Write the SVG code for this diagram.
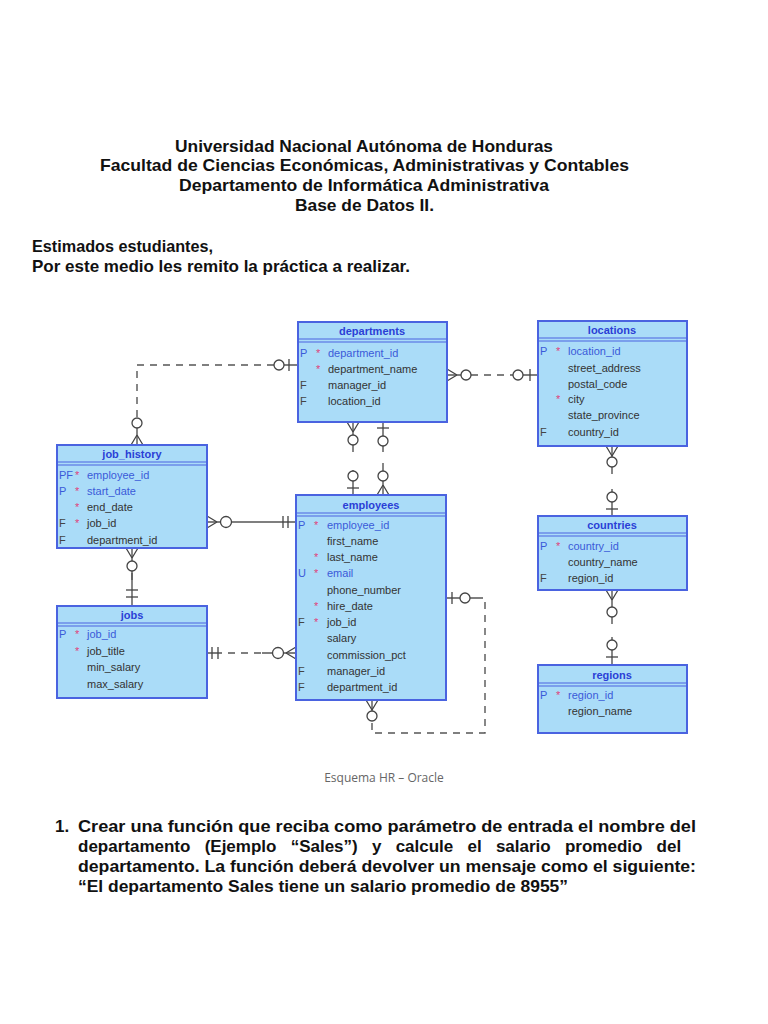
<svg xmlns="http://www.w3.org/2000/svg" width="768" height="1024" viewBox="0 0 768 1024">
<style>
.t{font-family:"Liberation Sans",Arial,sans-serif;font-weight:bold;font-size:17px;fill:#111}
.box{fill:#aadcf8;stroke:#4a63e0;stroke-width:2}
.sep{stroke:#4a63e0;stroke-width:1.2}
.hd{font-family:"Liberation Sans",Arial,sans-serif;font-weight:bold;font-size:11px;fill:#2b3fd6;text-anchor:middle}
.c{font-family:"Liberation Sans",Arial,sans-serif;font-size:11px;fill:#333}
.pk{fill:#3a5ad8}
.fl{font-family:"Liberation Sans",Arial,sans-serif;font-size:11px;fill:#3a5ad8}
.ff{font-family:"Liberation Sans",Arial,sans-serif;font-size:11px;fill:#444}
.st{font-family:"Liberation Sans",Arial,sans-serif;font-size:11px;fill:#e0407a}
.ln{fill:none;stroke:#555;stroke-width:1.4}
.dl{fill:none;stroke:#555;stroke-width:1.4;stroke-dasharray:7 6}
.ci{fill:#fff;stroke:#444;stroke-width:1.3}
.sy{fill:none;stroke:#444;stroke-width:1.3}
.cap{font-family:"Open Sans","Liberation Sans",sans-serif;font-size:12px;fill:#666;text-anchor:middle}
</style>

<g id="title">
<text class="t" x="364" y="152" text-anchor="middle" textLength="378" lengthAdjust="spacingAndGlyphs">Universidad Nacional Autónoma de Honduras</text>
<text class="t" x="364.5" y="171" text-anchor="middle" textLength="529" lengthAdjust="spacingAndGlyphs">Facultad de Ciencias Económicas, Administrativas y Contables</text>
<text class="t" x="364" y="191" text-anchor="middle" textLength="370" lengthAdjust="spacingAndGlyphs">Departamento de Informática Administrativa</text>
<text class="t" x="364.5" y="211" text-anchor="middle" textLength="139" lengthAdjust="spacingAndGlyphs">Base de Datos II.</text>
<text class="t" x="32" y="252" textLength="181" lengthAdjust="spacingAndGlyphs">Estimados estudiantes,</text>
<text class="t" x="32" y="272" textLength="378" lengthAdjust="spacingAndGlyphs">Por este medio les remito la práctica a realizar.</text>
</g>

<g id="connectors">
<!-- departments - job_history -->
<path class="dl" d="M274,365 H137 V418"/>
<path class="ln" d="M284,365 H298 M137,428 V445"/>
<line class="sy" x1="289" y1="359" x2="289" y2="371"/>
<circle class="ci" cx="279" cy="365" r="5"/>
<circle class="ci" cx="137" cy="423" r="5"/>
<path class="sy" d="M137,435 L131,445 M137,435 L143,445"/>
<!-- departments - locations -->
<path class="ln" d="M447,375 H461 M523,375 H538"/>
<path class="dl" d="M471,375 H513"/>
<path class="sy" d="M457,375 L447,369 M457,375 L447,381"/>
<circle class="ci" cx="466" cy="375" r="5"/>
<circle class="ci" cx="518" cy="375" r="5"/>
<line class="sy" x1="530" y1="369" x2="530" y2="381"/>
<!-- departments - employees (manager) -->
<path class="ln" d="M353,422 V435 M353,445 V452 M353,470 V471 M353,481 V495"/>
<path class="sy" d="M353,432 L347,422 M353,432 L359,422"/>
<circle class="ci" cx="353" cy="440" r="5"/>
<circle class="ci" cx="353" cy="476" r="5"/>
<line class="sy" x1="347" y1="488" x2="359" y2="488"/>
<!-- departments - employees (dept) -->
<path class="ln" d="M383,422 V436 M383,446 V452 M383,463 V471 M383,481 V495"/>
<line class="sy" x1="377" y1="428" x2="389" y2="428"/>
<circle class="ci" cx="383" cy="441" r="5"/>
<circle class="ci" cx="383" cy="476" r="5"/>
<path class="sy" d="M383,485 L377,495 M383,485 L389,495"/>
<!-- job_history - employees -->
<path class="ln" d="M207,522 H296"/>
<path class="sy" d="M217,522 L207,516 M217,522 L207,528"/>
<circle class="ci" cx="226" cy="522" r="5.5"/>
<line class="sy" x1="283" y1="516" x2="283" y2="528"/>
<line class="sy" x1="288" y1="516" x2="288" y2="528"/>
<!-- job_history - jobs -->
<path class="ln" d="M132,548 V561 M132,571 V606"/>
<path class="dl" d="M132,573 V585"/>
<circle class="ci" cx="132" cy="566" r="5"/>
<path class="sy" d="M132,558 L126,548 M132,558 L138,548"/>
<line class="sy" x1="126" y1="590" x2="138" y2="590"/>
<line class="sy" x1="126" y1="597" x2="138" y2="597"/>
<!-- jobs - employees -->
<path class="ln" d="M207,653 H222 M262,653 H273 M283,653 H296"/>
<path class="dl" d="M228,653 H262"/>
<line class="sy" x1="212" y1="647" x2="212" y2="659"/>
<line class="sy" x1="218" y1="647" x2="218" y2="659"/>
<circle class="ci" cx="278" cy="653" r="5.5"/>
<path class="sy" d="M286,653 L296,647 M286,653 L296,659"/>
<!-- employees self (manager) -->
<path class="ln" d="M446,598 H460 M470,598 H476"/>
<path class="dl" d="M476,598 H485 V733 H372 V722"/>
<line class="sy" x1="452" y1="592" x2="452" y2="604"/>
<circle class="ci" cx="465" cy="598" r="5"/>
<path class="ln" d="M372,700 V711"/>
<path class="sy" d="M372,710 L366,700 M372,710 L378,700"/>
<circle class="ci" cx="372" cy="716" r="5"/>
<!-- locations - countries -->
<path class="ln" d="M612,446 V457 M612,467 V474 M612,489 V492 M612,502 V516"/>
<path class="sy" d="M612,456 L606,446 M612,456 L618,446"/>
<circle class="ci" cx="612" cy="462" r="5"/>
<circle class="ci" cx="612" cy="497" r="5"/>
<line class="sy" x1="606" y1="509" x2="618" y2="509"/>
<!-- countries - regions -->
<path class="ln" d="M612,590 V607 M612,617 V624 M612,637 V640 M612,650 V665"/>
<path class="sy" d="M612,600 L606,590 M612,600 L618,590"/>
<circle class="ci" cx="612" cy="612" r="5"/>
<circle class="ci" cx="612" cy="645" r="5"/>
<line class="sy" x1="606" y1="657" x2="618" y2="657"/>
</g>

<g id="departments">
<rect class="box" x="298" y="322" width="149" height="100"/>
<line class="sep" x1="298" y1="339" x2="447" y2="339"/><line class="sep" x1="298" y1="342" x2="447" y2="342"/>
<text class="hd" x="372" y="335">departments</text>
<text class="fl" x="300" y="357">P</text><text class="st" x="316" y="357">*</text><text class="c pk" x="328" y="357">department_id</text>
<text class="st" x="316" y="373">*</text><text class="c" x="328" y="373">department_name</text>
<text class="ff" x="300" y="389">F</text><text class="c" x="328" y="389">manager_id</text>
<text class="ff" x="300" y="405">F</text><text class="c" x="328" y="405">location_id</text>
</g>

<g id="locations">
<rect class="box" x="538" y="321" width="149" height="125"/>
<line class="sep" x1="538" y1="338" x2="687" y2="338"/><line class="sep" x1="538" y1="341" x2="687" y2="341"/>
<text class="hd" x="612" y="334">locations</text>
<text class="fl" x="540" y="355">P</text><text class="st" x="556" y="355">*</text><text class="c pk" x="568" y="355">location_id</text>
<text class="c" x="568" y="372">street_address</text>
<text class="c" x="568" y="388">postal_code</text>
<text class="st" x="556" y="403">*</text><text class="c" x="568" y="403">city</text>
<text class="c" x="568" y="419">state_province</text>
<text class="ff" x="540" y="436">F</text><text class="c" x="568" y="436">country_id</text>
</g>

<g id="job_history">
<rect class="box" x="57" y="445" width="150" height="103"/>
<line class="sep" x1="57" y1="462" x2="207" y2="462"/><line class="sep" x1="57" y1="465" x2="207" y2="465"/>
<text class="hd" x="132" y="458">job_history</text>
<text class="fl" x="59" y="479">PF</text><text class="st" x="75" y="479">*</text><text class="c pk" x="87" y="479">employee_id</text>
<text class="fl" x="59" y="495">P</text><text class="st" x="75" y="495">*</text><text class="c pk" x="87" y="495">start_date</text>
<text class="st" x="75" y="511">*</text><text class="c" x="87" y="511">end_date</text>
<text class="ff" x="59" y="527">F</text><text class="st" x="75" y="527">*</text><text class="c" x="87" y="527">job_id</text>
<text class="ff" x="59" y="544">F</text><text class="c" x="87" y="544">department_id</text>
</g>

<g id="employees">
<rect class="box" x="296" y="495" width="150" height="205"/>
<line class="sep" x1="296" y1="513" x2="446" y2="513"/><line class="sep" x1="296" y1="516" x2="446" y2="516"/>
<text class="hd" x="371" y="509">employees</text>
<text class="fl" x="298" y="529">P</text><text class="st" x="314" y="529">*</text><text class="c pk" x="327" y="529">employee_id</text>
<text class="c" x="327" y="545">first_name</text>
<text class="st" x="314" y="561">*</text><text class="c" x="327" y="561">last_name</text>
<text class="fl" x="298" y="577">U</text><text class="st" x="314" y="577">*</text><text class="c pk" x="327" y="577">email</text>
<text class="c" x="327" y="594">phone_number</text>
<text class="st" x="314" y="610">*</text><text class="c" x="327" y="610">hire_date</text>
<text class="ff" x="298" y="626">F</text><text class="st" x="314" y="626">*</text><text class="c" x="327" y="626">job_id</text>
<text class="c" x="327" y="642">salary</text>
<text class="c" x="327" y="659">commission_pct</text>
<text class="ff" x="298" y="675">F</text><text class="c" x="327" y="675">manager_id</text>
<text class="ff" x="298" y="691">F</text><text class="c" x="327" y="691">department_id</text>
</g>

<g id="jobs">
<rect class="box" x="57" y="606" width="150" height="92"/>
<line class="sep" x1="57" y1="623" x2="207" y2="623"/><line class="sep" x1="57" y1="626" x2="207" y2="626"/>
<text class="hd" x="132" y="619">jobs</text>
<text class="fl" x="59" y="638">P</text><text class="st" x="75" y="638">*</text><text class="c pk" x="87" y="638">job_id</text>
<text class="st" x="75" y="655">*</text><text class="c" x="87" y="655">job_title</text>
<text class="c" x="87" y="671">min_salary</text>
<text class="c" x="87" y="688">max_salary</text>
</g>

<g id="countries">
<rect class="box" x="538" y="516" width="149" height="74"/>
<line class="sep" x1="538" y1="533" x2="687" y2="533"/><line class="sep" x1="538" y1="536" x2="687" y2="536"/>
<text class="hd" x="612" y="529">countries</text>
<text class="fl" x="540" y="550">P</text><text class="st" x="556" y="550">*</text><text class="c pk" x="568" y="550">country_id</text>
<text class="c" x="568" y="566">country_name</text>
<text class="ff" x="540" y="582">F</text><text class="c" x="568" y="582">region_id</text>
</g>

<g id="regions">
<rect class="box" x="538" y="665" width="149" height="68"/>
<line class="sep" x1="538" y1="683" x2="687" y2="683"/><line class="sep" x1="538" y1="686" x2="687" y2="686"/>
<text class="hd" x="612" y="679">regions</text>
<text class="fl" x="540" y="699">P</text><text class="st" x="556" y="699">*</text><text class="c pk" x="568" y="699">region_id</text>
<text class="c" x="568" y="715">region_name</text>
</g>

<text class="cap" x="384" y="782">Esquema HR – Oracle</text>

<g id="question">
<text class="t" x="55" y="832">1.</text>
<text class="t" x="78" y="832" textLength="618" lengthAdjust="spacingAndGlyphs">Crear una función que reciba como parámetro de entrada el nombre del</text>
<text class="t" x="78" y="852" word-spacing="9.5">departamento (Ejemplo “Sales”) y calcule el salario promedio del</text>
<text class="t" x="78" y="872" textLength="618" lengthAdjust="spacingAndGlyphs">departamento. La función deberá devolver un mensaje como el siguiente:</text>
<text class="t" x="78" y="892" textLength="490" lengthAdjust="spacingAndGlyphs">“El departamento Sales tiene un salario promedio de 8955”</text>
</g>
</svg>
